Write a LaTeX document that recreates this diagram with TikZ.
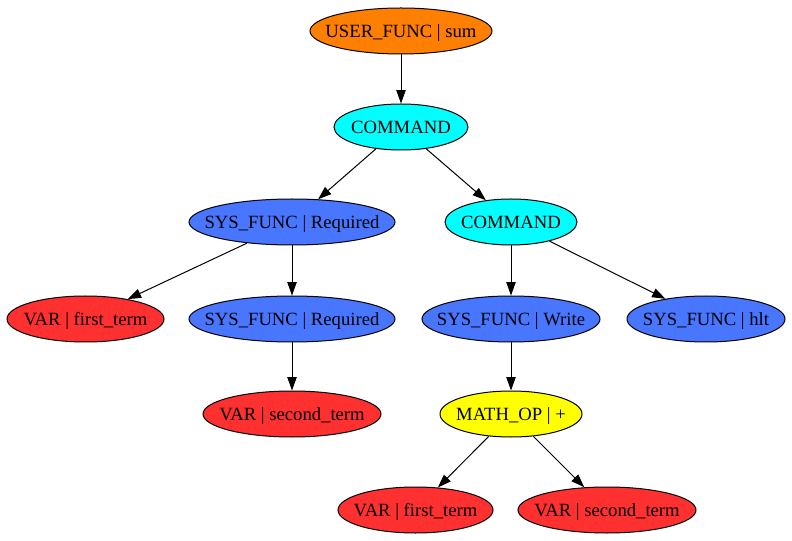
\documentclass[tikz,border=0pt]{standalone}
\usepackage{fontspec}
\setmainfont{Liberation Serif}
\usetikzlibrary{shapes.geometric,arrows.meta}
\definecolor{cOrange}{HTML}{FF7F00}
\definecolor{cCyan}{HTML}{00FFFF}
\definecolor{cBlue}{HTML}{4876FF}
\definecolor{cRed}{HTML}{FF3030}
\definecolor{cYellow}{HTML}{FFFF00}
\newcommand\lb[1]{\makebox[0pt]{\raisebox{-0.33em}[0pt][0pt]{#1}}}
\tikzset{
  gv/.style={ellipse, draw=black, line width=0.75pt, inner sep=0pt, minimum height=34.5pt, font=\fontsize{14}{16}\selectfont},
  uf/.style={gv, fill=cOrange},
  cmd/.style={gv, fill=cCyan},
  sys/.style={gv, fill=cBlue},
  var/.style={gv, fill=cRed},
  mop/.style={gv, fill=cYellow},
  edge/.style={draw=black, line width=0.75pt, -{Triangle[length=10pt,width=7pt]}}
}
\begin{document}
\begin{tikzpicture}[x=0.75pt,y=-0.75pt]
\useasboundingbox (0,0) rectangle (792,541);
\node[uf, minimum width=136.5pt] (n1) at (401,31) {\lb{USER\_FUNC | sum}};
\node[cmd, minimum width=100.5pt] (n2) at (401,127) {\lb{COMMAND}};
\node[sys, minimum width=154.5pt] (n3) at (292,222) {\lb{SYS\_FUNC | Required}};
\node[cmd, minimum width=99pt] (n4) at (511,222) {\lb{COMMAND}};
\node[var, minimum width=117.75pt] (n5) at (85.5,319) {\lb{VAR | first\_term}};
\node[sys, minimum width=154.5pt] (n6) at (292,319) {\lb{SYS\_FUNC | Required}};
\node[sys, minimum width=133.5pt] (n7) at (511,319) {\lb{SYS\_FUNC | Write}};
\node[sys, minimum width=118.5pt] (n8) at (706,319) {\lb{SYS\_FUNC | hlt}};
\node[var, minimum width=133.5pt] (n9) at (292,414) {\lb{VAR | second\_term}};
\node[mop, minimum width=106.5pt] (n10) at (511,414) {\lb{MATH\_OP | +}};
\node[var, minimum width=116.25pt] (n11) at (415.5,510) {\lb{VAR | first\_term}};
\node[var, minimum width=133.5pt] (n12) at (607,510) {\lb{VAR | second\_term}};
\draw[edge] (n1) -- (n2);
\draw[edge] (n2) -- (n3);
\draw[edge] (n2) -- (n4);
\draw[edge] (n3) -- (n5);
\draw[edge] (n3) -- (n6);
\draw[edge] (n4) -- (n7);
\draw[edge] (n4) -- (n8);
\draw[edge] (n6) -- (n9);
\draw[edge] (n7) -- (n10);
\draw[edge] (n10) -- (n11);
\draw[edge] (n10) -- (n12);
\end{tikzpicture}
\end{document}
